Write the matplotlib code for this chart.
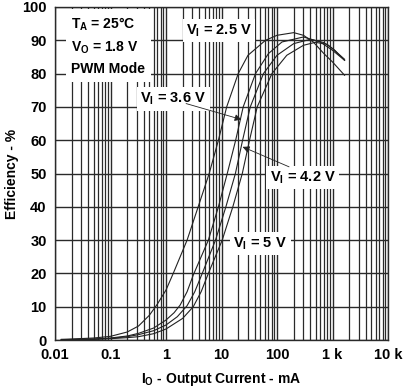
import matplotlib
matplotlib.use("Agg")
import matplotlib.pyplot as plt
from matplotlib.ticker import FixedLocator, LogLocator, NullFormatter

plt.rcParams['font.family'] = ['Liberation Sans', 'DejaVu Sans']
plt.rcParams['font.weight'] = 'bold'
plt.rcParams['mathtext.fontset'] = 'custom'
plt.rcParams['mathtext.rm'] = 'Liberation Sans:bold'
plt.rcParams['mathtext.it'] = 'Liberation Sans:bold'
plt.rcParams['mathtext.bf'] = 'Liberation Sans:bold'

# Output current (mA) and efficiency (%) per input voltage
i_25 = [0.013, 0.02, 0.05, 0.1, 0.2, 0.32, 0.5, 0.7, 1, 1.35, 2.4, 3.8, 6, 8.8, 12.4, 20, 30, 62, 100, 200, 300, 450, 700, 1000, 1650]
e_25 = [0.2, 0.3, 0.6, 1.1, 2.4, 4.2, 7.4, 10.8, 15, 20, 30, 40, 50, 60, 70, 80, 85.5, 90, 91.5, 92.3, 91.5, 89.5, 86, 83.5, 79.5]

i_36 = [0.013, 0.05, 0.1, 0.2, 0.32, 0.6, 1, 1.4, 1.8, 2.4, 3.1, 5.8, 8.8, 12.7, 18, 24.6, 41, 70, 123, 300, 600, 1000, 1650]
e_36 = [0.1, 0.3, 0.6, 1.2, 2.0, 3.6, 6, 8.2, 10.5, 14.5, 19.5, 30, 40, 50, 60, 70, 80, 86, 89.5, 91, 89.5, 87, 84]

i_42 = [0.013, 0.05, 0.1, 0.2, 0.32, 0.6, 1, 1.6, 2.4, 3.3, 4.5, 7.8, 12, 17.8, 24, 33, 57, 100, 200, 400, 700, 1000, 1650]
e_42 = [0.1, 0.25, 0.5, 1.0, 1.6, 2.8, 4.5, 7, 10.3, 14.5, 20, 30, 40, 50, 60, 70, 80, 85.5, 89, 90.3, 89.3, 87.5, 84.3]

i_50 = [0.013, 0.05, 0.1, 0.2, 0.32, 0.6, 1, 2, 3.1, 4.3, 5.8, 10.3, 16, 23.7, 32, 44, 81, 150, 300, 490, 800, 1100, 1650]
e_50 = [0.1, 0.2, 0.4, 0.7, 1.0, 1.9, 3.3, 6.5, 10, 14.5, 20, 30, 40, 50, 60, 70, 80, 85.5, 88.5, 89.4, 88.8, 87, 84]

x_ticks = [0.01, 0.1, 1, 10, 100, 1000, 10000]
x_labels = ['0.01', '0.1', '1', '10', '100', '1 k', '10 k']
y_ticks = list(range(0, 101, 10))

fig = plt.figure(figsize=(4.15, 3.89), dpi=100)
ax = fig.add_axes([55/415, 1-340/389, 333/415, 333/389])

ax.set_xscale('log')
ax.set_xlim(0.01, 10000)
ax.set_ylim(0, 100)

for xs, ys in [(i_25, e_25), (i_36, e_36), (i_42, e_42), (i_50, e_50)]:
    ax.plot(xs, ys, color='#222222', lw=0.8, zorder=3)

ax.xaxis.set_major_locator(FixedLocator(x_ticks))
ax.set_xticklabels(x_labels)
ax.xaxis.set_minor_locator(LogLocator(base=10, subs=range(2, 10), numticks=20))
ax.xaxis.set_minor_formatter(NullFormatter())
ax.set_yticks(y_ticks)

ax.grid(True, which='major', axis='both', color='#2a2a2a', lw=1.0, zorder=1)
ax.grid(True, which='minor', axis='x', color='#2a2a2a', lw=0.9, zorder=1)
ax.tick_params(axis='both', which='both', length=0, labelsize=10.5, pad=6)
for lbl in ax.get_xticklabels() + ax.get_yticklabels():
    lbl.set_fontweight('bold')
for s in ax.spines.values():
    s.set_color('#2a2a2a')
    s.set_linewidth(1.0)

ax.set_xlabel(r'$\mathrm{I_O}$ - Output Current - mA', fontsize=10, fontweight='bold', labelpad=6)
ax.set_ylabel('Efficiency - %', fontsize=10, fontweight='bold', va='center')
ax.yaxis.set_label_coords(-0.128, 0.5)

box = dict(facecolor='white', edgecolor='none', pad=2.5)
ax.text(0.0197, 97.3, '\n'.join([r'$\mathrm{T_A}$ = 25°C', r'$\mathrm{V_O}$ = 1.8 V', 'PWM Mode']),
        fontsize=10, fontweight='bold', va='top', ha='left', linespacing=1.55,
        bbox=dict(facecolor='white', edgecolor='none', pad=4), zorder=4)

lab_fs = 10.5
ax.text(9, 93, r'$\mathrm{V_I}$ = 2.5 V', fontsize=lab_fs, fontweight='bold', ha='center', va='center', bbox=box, zorder=4)
ax.text(1.35, 72.4, r'$\mathrm{V_I}$ = 3.6 V', fontsize=lab_fs, fontweight='bold', ha='center', va='center', bbox=box, zorder=4)
ax.text(290, 48.8, r'$\mathrm{V_I}$ = 4.2 V', fontsize=lab_fs, fontweight='bold', ha='center', va='center', bbox=box, zorder=4)
ax.text(50, 29, r'$\mathrm{V_I}$ = 5 V', fontsize=lab_fs, fontweight='bold', ha='center', va='center', bbox=box, zorder=4)

ax.annotate('', xy=(23, 66.2), xytext=(2.3, 71.0),
            arrowprops=dict(arrowstyle='-|>', color='#222222', lw=0.6, mutation_scale=10, shrinkA=0, shrinkB=0), zorder=5)
ax.annotate('', xy=(24, 58), xytext=(165, 52),
            arrowprops=dict(arrowstyle='-|>', color='#222222', lw=0.6, mutation_scale=10, shrinkA=0, shrinkB=0), zorder=5)

fig.savefig('out.png', dpi=100)
